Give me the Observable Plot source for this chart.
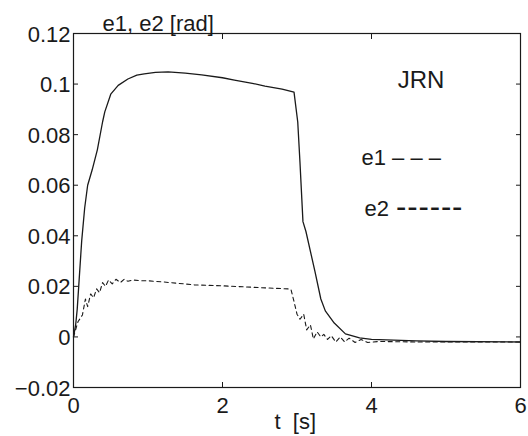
<!DOCTYPE html>
<html>
<head>
<meta charset="utf-8">
<script src="https://cdn.jsdelivr.net/npm/d3@7"></script>
<script src="https://cdn.jsdelivr.net/npm/@observablehq/plot@0.6"></script>
<style>
  body { margin: 0; background: #fff; }
</style>
</head>
<body>
<div id="chart"></div>
<script>
// e2 (solid curve)
const tE2 = [0, 0.03, 0.05, 0.07, 0.11, 0.15, 0.19, 0.25, 0.32, 0.39, 0.42, 0.50, 0.60, 0.73, 0.85, 0.95, 1.10, 1.27, 1.50, 1.72, 2.00, 2.16, 2.40, 2.57, 2.80, 2.96, 3.01, 3.04, 3.08, 3.12, 3.24, 3.32, 3.38, 3.50, 3.65, 3.84, 4.00, 4.60, 5.00, 6.00];
const e2  = [0, 0.005, 0.011, 0.020, 0.038, 0.051, 0.060, 0.066, 0.074, 0.085, 0.089, 0.096, 0.0995, 0.102, 0.1035, 0.104, 0.1046, 0.1048, 0.1043, 0.1036, 0.1025, 0.1016, 0.1003, 0.0992, 0.098, 0.0968, 0.085, 0.069, 0.0456, 0.0417, 0.026, 0.015, 0.0103, 0.0055, 0.0012, -0.0004, -0.001, -0.0016, -0.0018, -0.002];

// e1 (dashed curve)
const tE1 = [0, 0.06, 0.12, 0.16, 0.19, 0.23, 0.27, 0.31, 0.35, 0.39, 0.43, 0.47, 0.52, 0.57, 0.63, 0.68, 0.73, 0.80, 0.90, 1.00, 1.18, 1.40, 1.62, 2.00, 2.30, 2.57, 2.89, 2.92, 2.96, 3.00, 3.04, 3.09, 3.13, 3.18, 3.22, 3.27, 3.32, 3.36, 3.41, 3.46, 3.52, 3.58, 3.64, 3.70, 3.78, 3.86, 3.95, 4.10, 4.60, 5.00, 6.00];
const e1  = [0, 0.006, 0.0087, 0.015, 0.012, 0.017, 0.0155, 0.019, 0.0175, 0.0215, 0.020, 0.0225, 0.021, 0.0228, 0.0215, 0.0228, 0.022, 0.0225, 0.0222, 0.0222, 0.0218, 0.0212, 0.0206, 0.0202, 0.0198, 0.0194, 0.019, 0.0187, 0.014, 0.009, 0.007, 0.009, 0.0028, 0.0048, -0.0008, 0.002, 0.0, 0.001, -0.001, 0.0005, -0.002, 0.0, -0.002, -0.0005, -0.0022, -0.001, -0.0022, -0.0018, -0.002, -0.002, -0.002];

const xTicks = [0, 2, 4, 6];
const xTickLabels = ["0", "2", "4", "6"];
const yTicks = [-0.02, 0, 0.02, 0.04, 0.06, 0.08, 0.1, 0.12];
const yTickLabels = ["\u22120.02", "0", "0.02", "0.04", "0.06", "0.08", "0.1", "0.12"];

const titleText = "e1, e2 [rad]";
const xLabelText = "t  [s]";
const notes = [
  {x: 4.664, y: 0.1013, text: "JRN", anchor: "middle", size: 24},
  {x: 3.866, y: 0.0706, text: "e1 \u2013 \u2013 \u2013", anchor: "start", size: 22},
  {x: 3.906, y: 0.0508, text: "e2", anchor: "start", size: 22}
];
const e2Key = [{x: 3.906, y: 0.0508, text: "------"}];

const rowsE1 = tE1.map((t, i) => ({t, v: e1[i]}));
const rowsE2 = tE2.map((t, i) => ({t, v: e2[i]}));

const ink = "#1a1a1a";
const chart = Plot.plot({
  width: 528,
  height: 436,
  marginLeft: 73,
  marginRight: 8,
  marginTop: 33,
  marginBottom: 49,
  style: {fontFamily: "'Liberation Sans', Arial, Helvetica, sans-serif", fontSize: "22px", color: ink, background: "#fff"},
  x: {domain: [0, 6]},
  y: {domain: [-0.02, 0.12]},
  marks: [
    Plot.frame({stroke: ink, strokeWidth: 1.2}),
    Plot.axisX(xTicks, {anchor: "bottom", tickSize: 0, tickPadding: 10, tickFormat: (d, i) => xTickLabels[i], label: null, fontSize: 22}),
    Plot.axisX(xTicks, {anchor: "bottom", tickSize: -5, tickFormat: () => "", label: null}),
    Plot.axisX(xTicks, {anchor: "top", tickSize: -5, tickFormat: () => "", label: null}),
    Plot.axisY(yTicks, {anchor: "left", tickSize: 0, tickPadding: 3, dy: 1, tickFormat: (d, i) => yTickLabels[i], label: null, fontSize: 22}),
    Plot.axisY(yTicks, {anchor: "left", tickSize: -5, tickFormat: () => "", label: null}),
    Plot.axisY(yTicks, {anchor: "right", tickSize: -5, tickFormat: () => "", label: null}),
    Plot.line(rowsE1, {x: "t", y: "v", stroke: ink, strokeWidth: 1.1, strokeDasharray: "4,3.5"}),
    Plot.line(rowsE2, {x: "t", y: "v", stroke: ink, strokeWidth: 1.3}),
    Plot.text(notes.filter(d => d.anchor === "middle"), {x: "x", y: "y", text: "text", textAnchor: "middle", lineAnchor: "middle", fontSize: 24, fill: ink}),
    Plot.text(notes.filter(d => d.anchor === "start"), {x: "x", y: "y", text: "text", textAnchor: "start", lineAnchor: "middle", fontSize: 22, fill: ink}),
    Plot.text(e2Key, {x: "x", y: "y", text: "text", textAnchor: "start", lineAnchor: "middle", fontSize: 31, dx: 31.5, dy: -1, fill: ink}),
    Plot.text([titleText], {frameAnchor: "top-left", textAnchor: "start", lineAnchor: "bottom", dx: 29, dy: -3, fontSize: 22, fill: ink}),
    Plot.text([xLabelText], {frameAnchor: "bottom-left", textAnchor: "start", lineAnchor: "bottom", dx: 201, dy: 41, fontSize: 22, fill: ink})
  ]
});
d3.select(chart).selectAll("text").filter(function() { return this.textContent === "------"; }).attr("letter-spacing", 0.9);
document.getElementById("chart").appendChild(chart);
</script>
</body>
</html>
